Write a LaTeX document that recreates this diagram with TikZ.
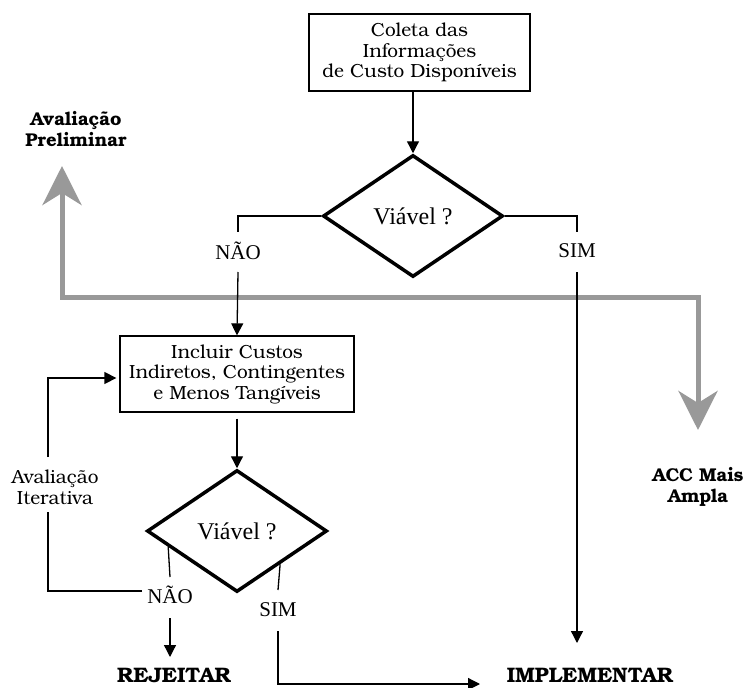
\documentclass[tikz,border=0pt]{standalone}
\usepackage{fontspec}
\setmainfont{Liberation Serif}
\newfontfamily\bookman{TeX Gyre Bonum}
\usetikzlibrary{shapes.geometric,arrows.meta,calc}
\definecolor{phasegray}{HTML}{999999}

\begin{document}
\begin{tikzpicture}[x=1pt,y=-1pt,
  box/.style={draw, line width=1.3pt, inner sep=0pt, align=center,
    font=\bookman\fontsize{19}{20.5}\selectfont},
  decision/.style={diamond, draw, line width=3.5pt, minimum width=180pt,
    minimum height=122pt, inner sep=0pt, font=\fontsize{24}{26}\selectfont},
  flow/.style={line width=1.3pt, -{Triangle[length=12pt,width=12pt]}},
  plain/.style={line width=1.3pt},
  answer/.style={font=\fontsize{21}{24}\selectfont, inner sep=0pt},
  outcome/.style={font=\bookman\bfseries\fontsize{21}{21}\selectfont,
    inner sep=0pt, align=center},
  phasename/.style={font=\bookman\bfseries\fontsize{18.5}{21}\selectfont,
    inner sep=0pt, align=center},
  note/.style={font=\bookman\fontsize{19}{21}\selectfont, inner sep=0pt, align=center},
  phase/.style={line width=5pt, draw=phasegray, line join=miter,
    {Stealth[length=39pt,width=39pt,inset=12pt,fill=phasegray]}-{Stealth[length=39pt,width=39pt,inset=12pt,fill=phasegray]}},
]
\useasboundingbox (0,0) rectangle (745,688);

% process boxes and decisions
\node[box, minimum width=221pt, minimum height=77pt] (collect) at (419.5,52.5)
  {Coleta das\\Informações\\de Custo Disponíveis};
\node[decision] (viable1) at (413,216) {Viável ?};
\node[box, minimum width=234pt, minimum height=76pt] (include) at (237,374)
  {Incluir Custos\\Indiretos, Contingentes\\e Menos Tangíveis};
\node[decision] (viable2) at (237,531) {Viável ?};

% branch labels
\node[answer] (no1) at (238,251) {NÃO};
\node[answer] (yes1) at (577,251) {SIM};
\node[answer] (no2) at (170,595) {NÃO};
\node[answer] (yes2) at (278,610) {SIM};
\node[note] (iter) at (55,487) {Avaliação\\Iterativa};

% outcomes and phases
\node[outcome] (reject) at (174,675) {REJEITAR};
\node[outcome] (implement) at (590,675) {IMPLEMENTAR};
\node[phasename] (prelim) at (76,129) {Avaliação\\Preliminar};
\begin{scope}
  \clip (600,440) rectangle (745,505);
  \node[phasename] (wider) at (698,487) {ACC Mais\\Ampla};
\end{scope}

% wide gray phase arrow
\coordinate (prelimTip) at (62,166);
\coordinate (phaseCorner) at (62,297);
\coordinate (widerTip) at (698,430);
\draw[phase] (prelimTip) -- (phaseCorner) -| (widerTip);

% gap ends of the connectors around the labels
\coordinate (no1a) at (238,232);
\coordinate (no1b) at (238,272);
\coordinate (yes1a) at (577,232);
\coordinate (yes1b) at (577,272);
\coordinate (implTip) at (577,643);
\coordinate (no2a) at (170,577);
\coordinate (no2b) at (170,618);
\coordinate (rejTip) at (170,657);
\coordinate (no2left) at (142,591);
\coordinate (iterLow) at (48,512);
\coordinate (iterHigh) at (48,457);
\coordinate (yes2a) at (278,590);
\coordinate (yes2b) at (278,631);
\coordinate (yes2Tip) at (480,684);

% connectors
\draw[flow] (collect.south -| viable1.north) -- (viable1.north);
\draw[plain] (viable1.west) -| (no1a);
\draw[flow] (no1b) -- (include.north);
\draw[plain] (viable1.east) -| (yes1a);
\draw[flow] (yes1b) -- (implTip);
\draw[flow, shorten <=6pt] (include.south) -- (viable2.north);
\draw[plain] ($(viable2.west)!0.25!(viable2.south)$) -- (no2a);
\draw[flow] (no2b) -- (rejTip);
\draw[plain] (no2left) -| (iterLow);
\draw[flow, shorten >=3pt] (iterHigh) |- ($(include.west)+(0,4)$);
\draw[plain] ($(viable2.east)!0.53!(viable2.south)$) -- (yes2a);
\draw[flow] (yes2b) |- (yes2Tip);
\end{tikzpicture}
\end{document}
